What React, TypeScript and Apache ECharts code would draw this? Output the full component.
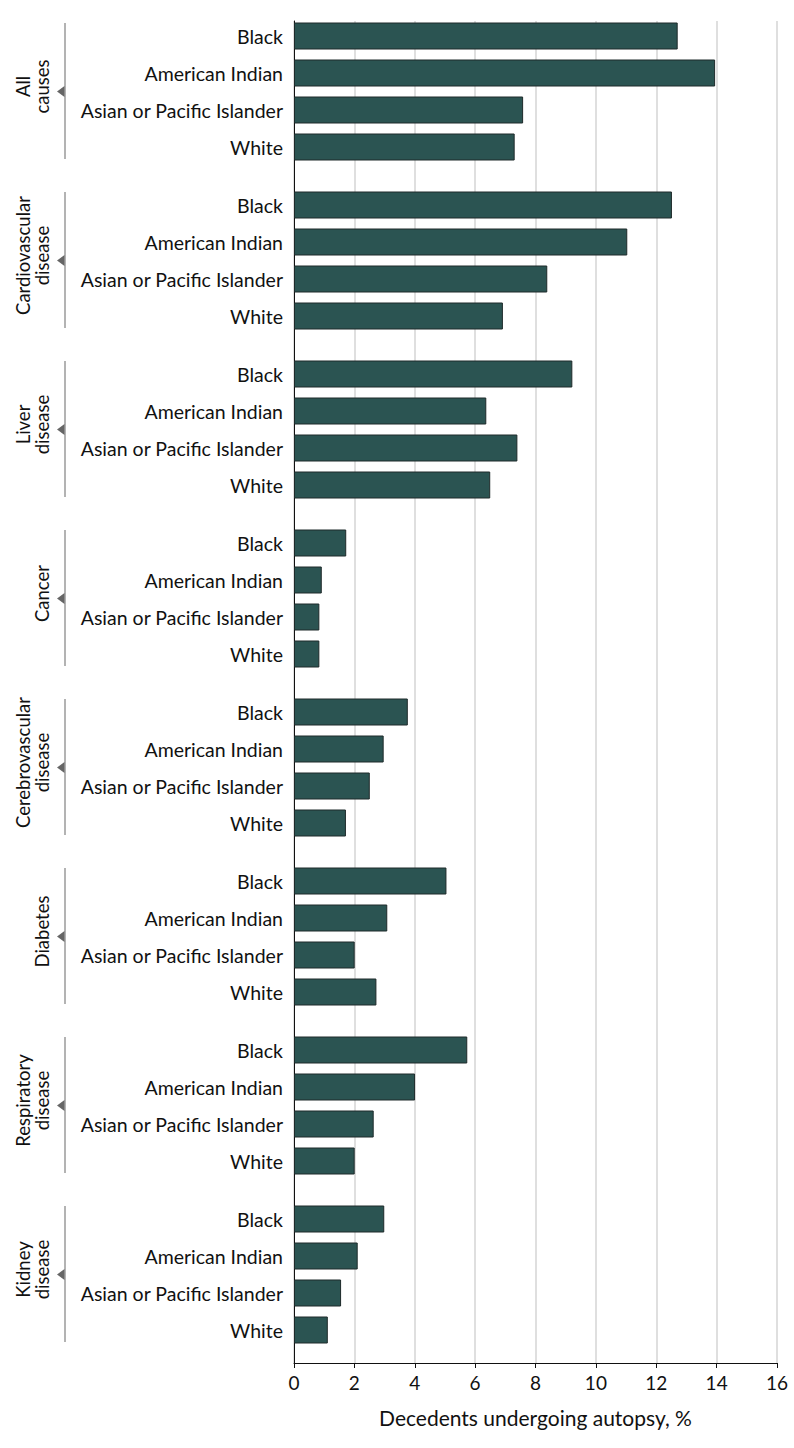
import React, { useEffect, useRef } from "react";
import * as echarts from "echarts";

const groupNames = [
  "All\ncauses",
  "Cardiovascular\ndisease",
  "Liver\ndisease",
  "Cancer",
  "Cerebrovascular\ndisease",
  "Diabetes",
  "Respiratory\ndisease",
  "Kidney\ndisease",
];
const races = ["Black", "American Indian", "Asian or Pacific Islander", "White"];

const allCauses = [12.71, 13.95, 7.59, 7.31];
const cardiovascular = [12.52, 11.04, 8.39, 6.92];
const liver = [9.22, 6.37, 7.4, 6.5];
const cancer = [1.73, 0.92, 0.84, 0.84];
const cerebrovascular = [3.77, 2.97, 2.51, 1.72];
const diabetes = [5.05, 3.09, 2.01, 2.73];
const respiratory = [5.74, 4.01, 2.64, 2.01];
const kidney = [2.99, 2.11, 1.56, 1.12];

const groupValues = [allCauses, cardiovascular, liver, cancer, cerebrovascular, diabetes, respiratory, kidney];

const xTicks = [0, 2, 4, 6, 8, 10, 12, 14, 16];
const xTitle = "Decedents undergoing autopsy, %";

const FONT = "Lato, 'Noto Sans', sans-serif";
const W = 794;
const H = 1448;
const LEFT = 294;
const RIGHT = 17;
const TOP0 = 17.5;
const STEP = 169;
const GH = 148;
const AXIS_Y = 1363;

export default function App() {
  const ref = useRef<HTMLDivElement>(null);
  useEffect(() => {
    if (!ref.current) return;
    const chart = echarts.init(ref.current, null, { renderer: "svg" });
    const grids: any[] = [
      { left: LEFT, right: RIGHT, top: 21, bottom: H - AXIS_Y },
    ];
    const xAxes: any[] = [
      {
        gridIndex: 0,
        type: "value",
        min: xTicks[0],
        max: xTicks[xTicks.length - 1],
        interval: xTicks[1] - xTicks[0],
        axisLine: { show: true, lineStyle: { color: "#111", width: 1 } },
        axisTick: { show: true, length: 5, lineStyle: { color: "#111" } },
        axisLabel: { fontSize: 19, color: "#111", fontFamily: FONT, margin: 10 },
        splitLine: { show: true, lineStyle: { color: "#d4d4d4", width: 1.5 } },
        name: xTitle,
        nameLocation: "middle",
        nameGap: 44,
        nameTextStyle: { fontSize: 21, color: "#111", fontFamily: FONT },
      },
    ];
    const yAxes: any[] = [
      {
        gridIndex: 0,
        type: "value",
        min: 0,
        max: 1,
        axisLine: { show: true, lineStyle: { color: "#111", width: 1 } },
        axisTick: { show: false },
        axisLabel: { show: false },
        splitLine: { show: false },
      },
    ];
    const series: any[] = [];
    const graphics: any[] = [];
    groupNames.forEach((g, i) => {
      const top = TOP0 + STEP * i;
      grids.push({ left: LEFT, right: RIGHT, top, height: GH });
      xAxes.push({
        gridIndex: i + 1,
        type: "value",
        min: xTicks[0],
        max: xTicks[xTicks.length - 1],
        show: false,
      });
      yAxes.push({
        gridIndex: i + 1,
        type: "category",
        data: races,
        inverse: true,
        axisLine: { show: false },
        axisTick: { show: false },
        axisLabel: { fontSize: 19.5, color: "#111", fontFamily: FONT, margin: 11 },
        name: g,
        nameLocation: "middle",
        nameRotate: 90,
        nameGap: 243,
        nameTextStyle: {
          fontSize: 18.5,
          color: "#111",
          fontFamily: FONT,
          lineHeight: 19,
          align: "center",
          padding: [0, 0, 0, 10],
        },
      });
      series.push({
        type: "bar",
        xAxisIndex: i + 1,
        yAxisIndex: i + 1,
        data: groupValues[i],
        barWidth: 27,
        itemStyle: { color: "#2b5452", borderColor: "#1e2a2a", borderWidth: 1 },
      });
      const c = top + GH / 2;
      graphics.push({
        type: "line",
        shape: { x1: 65, y1: top + 5.5, x2: 65, y2: top + GH - 6.5 },
        style: { stroke: "#9a9a9a", lineWidth: 1.5 },
      });
      graphics.push({
        type: "polygon",
        shape: { points: [[57, c], [64.5, c - 5.5], [64.5, c + 5.5]] },
        style: { fill: "#666" },
      });
    });
    chart.setOption({
      animation: false,
      backgroundColor: "#fff",
      grid: grids,
      xAxis: xAxes,
      yAxis: yAxes,
      series,
      graphic: graphics,
    });
    return () => chart.dispose();
  }, []);
  return <div ref={ref} style={{ width: W, height: H, position: "absolute", left: 0, top: 0 }} />;
}
